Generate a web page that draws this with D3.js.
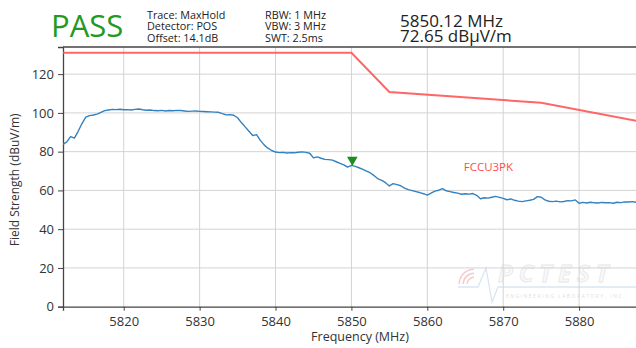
<!DOCTYPE html>
<html>
<head>
<meta charset="utf-8">
<script src="https://cdn.jsdelivr.net/npm/d3@7"></script>
<style>
  html, body { margin: 0; padding: 0; background: #fff; }
  svg { display: block; overflow: hidden; }
  text { font-family: "Open Sans", "DejaVu Sans", sans-serif; }
</style>
</head>
<body>
<div id="container"></div>
<script>
/* DATA */
// measured trace (max hold), frequency in MHz and level in dBuV/m
const traceFreq = [
  5812.0, 5812.5, 5813.0, 5813.5, 5814.0, 5814.5, 5815.0, 5815.5, 5816.0, 5816.5,
  5817.0, 5817.5, 5818.0, 5818.5, 5819.0, 5819.5, 5820.0, 5820.5, 5821.0, 5821.5,
  5822.0, 5822.5, 5823.0, 5823.5, 5824.0, 5824.5, 5825.0, 5825.5, 5826.0, 5826.5,
  5827.0, 5827.5, 5828.0, 5828.5, 5829.0, 5829.5, 5830.0, 5830.5, 5831.0, 5831.5,
  5832.0, 5832.5, 5833.0, 5833.5, 5834.0, 5834.5, 5835.0, 5835.5, 5836.0, 5836.5,
  5837.0, 5837.5, 5838.0, 5838.5, 5839.0, 5839.5, 5840.0, 5840.5, 5841.0, 5841.5,
  5842.0, 5842.5, 5843.0, 5843.5, 5844.0, 5844.5, 5845.0, 5845.5, 5846.0, 5846.5,
  5847.0, 5847.5, 5848.0, 5848.5, 5849.0, 5849.5, 5850.0, 5850.5, 5851.0, 5851.5,
  5852.0, 5852.5, 5853.0, 5853.5, 5854.0, 5854.5, 5855.0, 5855.5, 5856.0, 5856.5,
  5857.0, 5857.5, 5858.0, 5858.5, 5859.0, 5859.5, 5860.0, 5860.5, 5861.0, 5861.5,
  5862.0, 5862.5, 5863.0, 5863.5, 5864.0, 5864.5, 5865.0, 5865.5, 5866.0, 5866.5,
  5867.0, 5867.5, 5868.0, 5868.5, 5869.0, 5869.5, 5870.0, 5870.5, 5871.0, 5871.5,
  5872.0, 5872.5, 5873.0, 5873.5, 5874.0, 5874.5, 5875.0, 5875.5, 5876.0, 5876.5,
  5877.0, 5877.5, 5878.0, 5878.5, 5879.0, 5879.5, 5880.0, 5880.5, 5881.0, 5881.5,
  5882.0, 5882.5, 5883.0, 5883.5, 5884.0, 5884.5, 5885.0, 5885.5, 5886.0, 5886.5,
  5887.0, 5887.5, 5888.0
];
const traceLevel = [
  83.8, 85.0, 87.8, 87.0, 90.5, 94.5, 97.8, 98.6, 98.9, 99.4,
  100.3, 101.2, 101.5, 101.8, 101.7, 101.9, 101.6, 101.7, 101.5, 101.8,
  102.0, 101.6, 101.4, 101.5, 101.2, 101.1, 101.3, 101.0, 101.2, 101.1,
  101.3, 101.2, 101.0, 100.8, 100.9, 101.0, 100.8, 100.7, 100.6, 100.5,
  100.4, 100.3, 99.6, 99.0, 99.1, 98.8, 97.5, 95.0, 92.8, 90.5,
  88.3, 88.8, 85.8, 83.5, 81.8, 80.6, 79.8, 79.5, 79.6, 79.3,
  79.5, 79.4, 79.7, 79.9, 79.6, 79.2, 76.8, 77.3, 76.6, 76.0,
  75.9, 75.6, 74.8, 74.0, 73.2, 72.0, 72.9, 72.4, 71.7, 70.9,
  70.0, 69.0, 67.6, 66.0, 65.2, 64.0, 62.3, 63.5, 63.0, 62.4,
  61.2, 60.4, 59.9, 59.4, 58.9, 58.3, 57.6, 58.6, 59.6, 60.1,
  60.9, 59.8, 59.4, 58.9, 58.6, 58.0, 58.3, 58.1, 58.4, 57.5,
  55.7, 56.2, 56.0, 56.5, 56.9, 56.4, 55.9, 55.2, 55.6, 54.9,
  54.5, 54.2, 54.6, 54.9, 55.4, 56.8, 56.5, 55.1, 54.4, 54.2,
  54.5, 54.1, 54.3, 54.7, 54.6, 55.1, 53.4, 53.8, 53.5, 53.9,
  53.6, 53.5, 53.8, 53.6, 53.7, 53.4, 53.9, 53.7, 54.1, 54.0,
  54.2, 53.9, 54.0
];
// limit line FCCU3PK
const limitFreq = [5812, 5850, 5855, 5875, 5890];
const limitLevel = [131, 131, 110.8, 105.2, 94.1];
const limitName = "FCCU3PK";
// marker
const markerFreq = 5850.12;
const markerLevel = 72.65;
// ticks
const xTicks = [5820, 5830, 5840, 5850, 5860, 5870, 5880];
const yTicks = [0, 20, 40, 60, 80, 100, 120];
// header
const verdict = "PASS";
const settingsCol1 = ["Trace: MaxHold", "Detector: POS", "Offset: 14.1dB"];
const settingsCol2 = ["RBW: 1 MHz", "VBW: 3 MHz", "SWT: 2.5ms"];

/* CONSTANTS */
const width = 636,
  height = 348,
  plot = { left: 63, top: 47, right: 655, bottom: 306.7 };

const svg = d3.select("#container")
  .append("svg")
  .attr("width", width)
  .attr("height", height);

/* SCALES */
const xScale = d3.scaleLinear()
  .domain([5812, 5890])
  .range([plot.left, plot.right]);

const yScale = d3.scaleLinear()
  .domain([0, 134])
  .range([plot.bottom, plot.top]);

svg.append("clipPath")
  .attr("id", "clip")
  .append("rect")
  .attr("x", plot.left)
  .attr("y", plot.top)
  .attr("width", plot.right - plot.left)
  .attr("height", plot.bottom - plot.top);

/* WATERMARK */
const wm = svg.append("g").attr("opacity", 0.55);
wm.append("path")
  .attr("d", "M458,287 L478,287 L486,268 L492,302 L498,287 L640,287")
  .attr("fill", "none")
  .attr("stroke", "#b9d3ec")
  .attr("stroke-width", 1.3);
[6, 10, 14].forEach(r => {
  wm.append("path")
    .attr("d", d3.arc()({ innerRadius: r, outerRadius: r + 1.5, startAngle: -Math.PI / 2, endAngle: 0 }))
    .attr("transform", "translate(474,284)")
    .attr("fill", "#f2a0a0");
});
wm.append("text")
  .attr("x", 498).attr("y", 282)
  .attr("font-size", 24).attr("font-weight", "bold").attr("font-style", "italic")
  .attr("letter-spacing", 6)
  .attr("fill", "#f4f4f4").attr("stroke", "#d4d4d4").attr("stroke-width", 0.8)
  .text("PCTEST");
wm.append("text")
  .attr("x", 506).attr("y", 298)
  .attr("font-size", 5).attr("letter-spacing", 1.5)
  .attr("fill", "#c8c8c8")
  .text("ENGINEERING LABORATORY, INC.");

/* GRID */
svg.append("g")
  .selectAll("line")
  .data(xTicks)
  .join("line")
  .attr("x1", d => xScale(d)).attr("x2", d => xScale(d))
  .attr("y1", plot.top).attr("y2", plot.bottom)
  .attr("stroke", "#d3d3d3").attr("stroke-width", 1);

svg.append("g")
  .selectAll("line")
  .data(yTicks.slice(1))
  .join("line")
  .attr("x1", plot.left).attr("x2", plot.right)
  .attr("y1", d => yScale(d)).attr("y2", d => yScale(d))
  .attr("stroke", "#d3d3d3").attr("stroke-width", 1);

/* AXES */
const xAxis = d3.axisBottom(xScale).tickValues(xTicks).tickSize(4).tickPadding(6).tickFormat(d3.format("d"));
const yAxis = d3.axisLeft(yScale).tickValues(yTicks).tickSize(5).tickPadding(4);

const gx = svg.append("g")
  .attr("transform", `translate(0, ${plot.bottom})`)
  .call(xAxis);
const gy = svg.append("g")
  .attr("transform", `translate(${plot.left}, 0)`)
  .call(yAxis);

[gx, gy].forEach(g => {
  g.select(".domain").attr("stroke", "#444").attr("stroke-width", 1.3);
  g.selectAll(".tick line").attr("stroke", "#444");
  g.selectAll(".tick text")
    .attr("fill", "#333")
    .style("font-size", "13px")
    .style("font-family", "Open Sans");
});

// top spine
svg.append("line")
  .attr("x1", plot.left).attr("x2", plot.right)
  .attr("y1", plot.top).attr("y2", plot.top)
  .attr("stroke", "#444").attr("stroke-width", 1.3);

svg.append("text")
  .attr("x", 360).attr("y", 341)
  .attr("text-anchor", "middle")
  .attr("font-size", 12.5).attr("fill", "#333")
  .text("Frequency (MHz)");

svg.append("text")
  .attr("transform", `translate(19, ${(plot.top + plot.bottom) / 2 + 3}) rotate(-90)`)
  .attr("text-anchor", "middle")
  .attr("font-size", 12).attr("fill", "#333")
  .text("Field Strength (dBuV/m)");

/* LINES */
const lines = svg.append("g").attr("clip-path", "url(#clip)");

const lineGen = d3.line()
  .x(d => xScale(d[0]))
  .y(d => yScale(d[1]));

lines.append("path")
  .datum(limitFreq.map((f, i) => [f, limitLevel[i]]))
  .attr("d", lineGen)
  .attr("fill", "none")
  .attr("stroke", "#ff5555")
  .attr("stroke-opacity", 0.9)
  .attr("stroke-width", 2);

lines.append("path")
  .datum(traceFreq.map((f, i) => [f, traceLevel[i]]))
  .attr("d", lineGen)
  .attr("fill", "none")
  .attr("stroke", "#3282c2")
  .attr("stroke-width", 1.4)
  .attr("stroke-linejoin", "round");

svg.append("text")
  .attr("x", xScale(5864.8)).attr("y", yScale(70))
  .attr("font-size", 11.5).attr("fill", "#ff4d4d")
  .text(limitName);

// marker triangle, pointing down onto the peak
const mx = xScale(markerFreq), my = yScale(markerLevel);
svg.append("path")
  .attr("d", d3.symbol().type(d3.symbolTriangle).size(48))
  .attr("transform", `translate(${mx}, ${my - 6}) rotate(180)`)
  .attr("fill", "#1e8c1e");

/* HEADER */
svg.append("text")
  .attr("x", 51).attr("y", 37)
  .attr("font-size", 31).attr("fill", "#229a22")
  .text(verdict);

const header = svg.append("g").attr("font-size", 10.8).attr("fill", "#222");
[settingsCol1, settingsCol2].forEach((col, c) => {
  header.append("text")
    .attr("x", c === 0 ? 147 : 265)
    .attr("y", 18.5)
    .selectAll("tspan")
    .data(col)
    .join("tspan")
    .attr("x", c === 0 ? 147 : 265)
    .attr("dy", (d, i) => i === 0 ? 0 : 11.6)
    .text(d => d);
});

svg.append("text")
  .attr("font-size", 17).attr("fill", "#222")
  .attr("y", 26.5)
  .selectAll("tspan")
  .data([`${markerFreq.toFixed(2)} MHz`, `${markerLevel.toFixed(2)} dBµV/m`])
  .join("tspan")
  .attr("x", 400)
  .attr("dy", (d, i) => i === 0 ? 0 : 15)
  .text(d => d);
</script>
</body>
</html>
